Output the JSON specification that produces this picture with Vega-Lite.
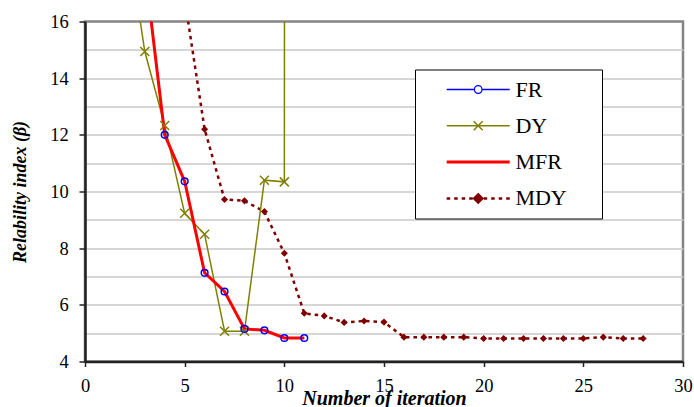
{
  "$schema": "https://vega.github.io/schema/vega-lite/v6.json",
  "width": 598,
  "height": 340,
  "autosize": {"type": "none"},
  "padding": {"left": 85, "top": 21.5, "right": 11, "bottom": 45.5},
  "background": "white",
  "config": {
    "view": {"stroke": "#858585", "strokeWidth": 2.5},
    "font": "'Liberation Serif', 'DejaVu Serif', serif",
    "axis": {
      "labelFont": "'Liberation Serif', 'DejaVu Serif', serif",
      "labelFontSize": 18.5,
      "labelColor": "black",
      "titleFont": "'Liberation Serif', 'DejaVu Serif', serif",
      "titleFontSize": 20,
      "titleFontStyle": "italic",
      "titleFontWeight": "bold",
      "titleColor": "black",
      "domainColor": "#222222",
      "domainWidth": 2.5,
      "tickColor": "#222222",
      "tickWidth": 1.5,
      "labelFlush": false,
      "labelOverlap": false
    },
    "text": {"font": "'Liberation Serif', 'DejaVu Serif', serif"}
  },
  "data": {
    "values": [
      {"series": "FR", "iteration": 3, "beta": 17.9},
      {"series": "FR", "iteration": 4, "beta": 12.0},
      {"series": "FR", "iteration": 5, "beta": 10.36},
      {"series": "FR", "iteration": 6, "beta": 7.13},
      {"series": "FR", "iteration": 7, "beta": 6.47},
      {"series": "FR", "iteration": 8, "beta": 5.15},
      {"series": "FR", "iteration": 9, "beta": 5.1},
      {"series": "FR", "iteration": 10, "beta": 4.83},
      {"series": "FR", "iteration": 11, "beta": 4.83},
      {"series": "DY", "iteration": 2, "beta": 19.6},
      {"series": "DY", "iteration": 3, "beta": 14.94},
      {"series": "DY", "iteration": 4, "beta": 12.33},
      {"series": "DY", "iteration": 5, "beta": 9.23},
      {"series": "DY", "iteration": 6, "beta": 8.49},
      {"series": "DY", "iteration": 7, "beta": 5.07},
      {"series": "DY", "iteration": 8, "beta": 5.07},
      {"series": "DY", "iteration": 9, "beta": 10.4},
      {"series": "DY", "iteration": 10, "beta": 10.34},
      {"series": "DY", "iteration": 11, "beta": 800},
      {"series": "MFR", "iteration": 3, "beta": 17.9},
      {"series": "MFR", "iteration": 4, "beta": 12.0},
      {"series": "MFR", "iteration": 5, "beta": 10.36},
      {"series": "MFR", "iteration": 6, "beta": 7.13},
      {"series": "MFR", "iteration": 7, "beta": 6.47},
      {"series": "MFR", "iteration": 8, "beta": 5.15},
      {"series": "MFR", "iteration": 9, "beta": 5.1},
      {"series": "MFR", "iteration": 10, "beta": 4.83},
      {"series": "MFR", "iteration": 11, "beta": 4.83},
      {"series": "MDY", "iteration": 5, "beta": 16.8},
      {"series": "MDY", "iteration": 6, "beta": 12.2},
      {"series": "MDY", "iteration": 7, "beta": 9.72},
      {"series": "MDY", "iteration": 8, "beta": 9.67},
      {"series": "MDY", "iteration": 9, "beta": 9.29},
      {"series": "MDY", "iteration": 10, "beta": 7.82},
      {"series": "MDY", "iteration": 11, "beta": 5.7},
      {"series": "MDY", "iteration": 12, "beta": 5.61},
      {"series": "MDY", "iteration": 13, "beta": 5.38},
      {"series": "MDY", "iteration": 14, "beta": 5.43},
      {"series": "MDY", "iteration": 15, "beta": 5.39},
      {"series": "MDY", "iteration": 16, "beta": 4.86},
      {"series": "MDY", "iteration": 17, "beta": 4.86},
      {"series": "MDY", "iteration": 18, "beta": 4.86},
      {"series": "MDY", "iteration": 19, "beta": 4.86},
      {"series": "MDY", "iteration": 20, "beta": 4.81},
      {"series": "MDY", "iteration": 21, "beta": 4.81},
      {"series": "MDY", "iteration": 22, "beta": 4.81},
      {"series": "MDY", "iteration": 23, "beta": 4.81},
      {"series": "MDY", "iteration": 24, "beta": 4.81},
      {"series": "MDY", "iteration": 25, "beta": 4.81},
      {"series": "MDY", "iteration": 26, "beta": 4.86},
      {"series": "MDY", "iteration": 27, "beta": 4.81},
      {"series": "MDY", "iteration": 28, "beta": 4.81}
    ]
  },
  "encoding": {
    "x": {
      "field": "iteration",
      "type": "quantitative",
      "scale": {"domain": [0, 30], "nice": false, "zero": false},
      "axis": {
        "values": [0, 5, 10, 15, 20, 25, 30],
        "grid": false,
        "tickSize": 5,
        "labelBaseline": "alphabetic",
        "labelPadding": 25,
        "title": "Number of iteration",
        "titleX": 299,
        "titleY": 43,
        "titleBaseline": "alphabetic",
        "titleAlign": "center"
      }
    },
    "y": {
      "field": "beta",
      "type": "quantitative",
      "scale": {"domain": [4, 16], "nice": false, "zero": false},
      "axis": {
        "values": [4, 5, 6, 7, 8, 9, 10, 11, 12, 13, 14, 15, 16],
        "labelExpr": "datum.value % 2 === 0 ? datum.label : ''",
        "tickOpacity": {"condition": {"test": "datum.value % 2 === 0", "value": 1}, "value": 0},
        "gridOpacity": {"condition": {"test": "datum.value >= 16 || datum.value <= 4", "value": 0}, "value": 1},
        "grid": true,
        "gridColor": "#c8c8c8",
        "gridWidth": 1.5,
        "tickSize": 6,
        "labelPadding": 10.7,
        "labelBaseline": "middle",
        "title": "Relability index (β)",
        "titleX": -65,
        "titleY": 170,
        "titleAngle": -90,
        "titleBaseline": "middle",
        "titleAlign": "center",
        "titleFontSize": 18
      }
    }
  },
  "layer": [
    {
      "transform": [{"filter": "datum.series === 'MDY'"}],
      "mark": {"type": "line", "clip": true, "strokeWidth": 2.5, "strokeDash": [3.5, 4]},
      "encoding": {
        "color": {
          "field": "series",
          "type": "nominal",
          "scale": {"domain": ["FR", "DY", "MFR", "MDY"], "range": ["#0000ff", "#808000", "#ff0000", "#800000"]},
          "legend": {
            "orient": "none",
            "legendX": 330,
            "legendY": 48,
            "title": null,
            "padding": 9,
            "strokeColor": "black",
            "fillColor": "white",
            "symbolSize": 4,
            "symbolOffset": 43.2,
            "labelOffset": 26.2,
            "rowPadding": 14.3,
            "labelFont": "'Liberation Serif', 'DejaVu Serif', serif",
            "labelFontSize": 22,
            "labelColor": "black",
            "labelLimit": 0,
            "encode": {
              "symbols": {
                "update": {
                  "shape": {"signal": "datum.value === 'FR' ? 'M-31.5,0H-3.8M3.8,0H31.5M3.8,0A3.8,3.8 0 1,1 -3.8,0A3.8,3.8 0 1,1 3.8,0M108,0' : datum.value === 'DY' ? 'M-31.5,0H31.5M-4.5,-4.5L4.5,4.5M-4.5,4.5L4.5,-4.5M108,0' : datum.value === 'MFR' ? 'M-31.5,0H31.5M108,0' : 'M-31.5,0h3.5M-24,0h3.5M-16.5,0h3.5M-9,0h3.5M5.5,0h3.5M13,0h3.5M20.5,0h3.5M28,0h3.5M0,-4L4,0L0,4L-4,0ZM108,0'"},
                  "fill": {"signal": "datum.value === 'FR' ? 'white' : datum.value === 'MDY' ? '#800000' : 'transparent'"},
                  "stroke": {"signal": "datum.value === 'FR' ? '#0000ff' : datum.value === 'DY' ? '#808000' : datum.value === 'MFR' ? '#ff0000' : '#800000'"},
                  "strokeWidth": {"signal": "datum.value === 'FR' ? 1.3 : datum.value === 'DY' ? 1.5 : datum.value === 'MFR' ? 3 : 2.5"},
                  "opacity": {"value": 1}
                }
              }
            }
          }
        }
      }
    },
    {
      "transform": [{"filter": "datum.series === 'DY'"}],
      "mark": {"type": "line", "clip": true, "strokeWidth": 1.5},
      "encoding": {
        "color": {"field": "series", "type": "nominal", "scale": {"domain": ["FR", "DY", "MFR", "MDY"], "range": ["#0000ff", "#808000", "#ff0000", "#800000"]}}
      }
    },
    {
      "transform": [{"filter": "datum.series === 'FR'"}],
      "mark": {"type": "line", "clip": true, "strokeWidth": 1},
      "encoding": {
        "color": {"field": "series", "type": "nominal", "scale": {"domain": ["FR", "DY", "MFR", "MDY"], "range": ["#0000ff", "#808000", "#ff0000", "#800000"]}}
      }
    },
    {
      "transform": [{"filter": "datum.series === 'MFR'"}],
      "mark": {"type": "line", "clip": true, "strokeWidth": 3},
      "encoding": {
        "color": {"field": "series", "type": "nominal", "scale": {"domain": ["FR", "DY", "MFR", "MDY"], "range": ["#0000ff", "#808000", "#ff0000", "#800000"]}}
      }
    },
    {
      "transform": [{"filter": "datum.series === 'MDY'"}],
      "mark": {"type": "point", "clip": true, "shape": "diamond", "filled": true, "size": 50, "color": "#800000", "opacity": 1}
    },
    {
      "transform": [{"filter": "datum.series === 'DY'"}],
      "mark": {"type": "point", "clip": true, "shape": "M-1,-1L1,1M-1,1L1,-1", "filled": false, "size": 81, "stroke": "#808000", "strokeWidth": 1.5, "opacity": 1}
    },
    {
      "transform": [{"filter": "datum.series === 'FR'"}],
      "mark": {"type": "point", "clip": true, "shape": "circle", "filled": false, "size": 45, "stroke": "#0000ff", "strokeWidth": 1.5, "opacity": 1}
    }
  ]
}
